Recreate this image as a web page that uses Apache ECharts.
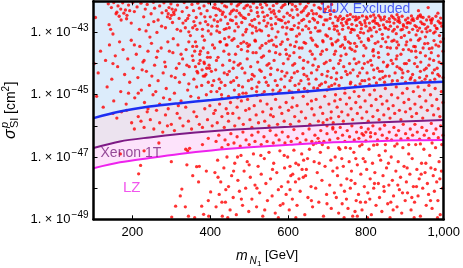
<!DOCTYPE html>
<html><head><meta charset="utf-8">
<script src="https://cdn.jsdelivr.net/npm/echarts@6/dist/echarts.min.js"></script>
<style>html,body{margin:0;padding:0;background:#fff}#c{width:463px;height:268px}</style>
</head><body><div id="c"></div>
<script>
// ---- axis ticks ----
const xTicks = [200, 400, 600, 800, 1000];
const yLabelExps = [-49, -47, -45, -43];   // labelled decades of sigma [cm^2]

// ---- limit curves: mass [GeV] and log10(sigma/cm^2) ----
const curveMass = [100, 168, 244, 321, 403, 502, 604, 706, 808, 910, 1000];
const luxExp    = [-45.75, -45.54, -45.38, -45.27, -45.17, -45.04, -44.94, -44.83, -44.72, -44.63, -44.58];
const xenonExp  = [-46.71, -46.50, -46.37, -46.26, -46.17, -46.09, -46.03, -45.96, -45.90, -45.85, -45.81];
const lzExp     = [-47.36, -47.17, -47.03, -46.90, -46.79, -46.69, -46.61, -46.53, -46.50, -46.46, -46.45];

// ---- annotations: [mass, log10 sigma, text, colour, size] ----
const notes = [
  [800, -42.25, 'LUX Excluded', '#2436f0', 14],
  [196, -46.87, 'Xenon 1T', '#7a237f', 14],
  [198, -47.98, 'LZ', '#ee2ae8', 15]
];

// ---- scan points, flat [mass, log10 sigma, ...] ----
const ptsTop = [
105,-42.52,138,-42.08,146,-42.2,152,-42.04,160,-42.35,163,-42.15,171,-42.6,175,-42.05,182,-42.28,186,-42.45,
190,-42.12,197,-42.7,201,-42.04,205,-42.33,212,-42.18,218,-42.9,222,-42.06,229,-42.5,233,-42.25,238,-42.1,
241,-42.75,248,-42.4,254,-42.03,257,-42.22,263,-43.0,266,-42.6,270,-42.15,276,-42.37,281,-42.05,285,-42.85,
290,-42.5,294,-42.2,299,-42.08,303,-42.68,307,-42.42,311,-42.28,316,-42.12,320,-42.55,324,-42.95,328,-42.33,
333,-42.04,337,-42.62,340,-42.2,345,-42.45,349,-43.1,353,-42.1,357,-42.3,361,-42.78,364,-42.52,368,-42.06,
372,-42.22,376,-42.4,380,-42.9,384,-42.15,388,-42.65,392,-42.3,396,-42.05,400,-42.5,404,-42.8,408,-42.2,
158,-42.4,166,-42.48,178,-42.38,185,-42.56,193,-42.3,170,-42.25,287,-42.3,292,-42.4,297,-42.55,302,-42.25,
306,-42.35,300,-42.45,140,-42.75,150,-43.05,144,-42.9,330,-42.7,336,-42.85,342,-42.55,358,-42.65,366,-42.9,
374,-42.7,386,-42.5,394,-42.75,402,-43.05,410,-42.6,345,-42.98,380,-43.12,
412,-42.1,415,-42.45,418,-42.8,421,-42.25,424,-43.0,427,-42.6,430,-42.05,433,-42.35,436,-42.9,439,-42.5,
442,-42.18,445,-42.72,448,-43.15,451,-42.4,454,-42.08,457,-42.62,460,-42.28,463,-42.95,466,-42.5,469,-42.15,
472,-42.82,475,-42.38,478,-42.04,481,-42.68,484,-43.08,487,-42.22,490,-42.55,493,-42.9,496,-42.12,499,-42.42,
502,-42.75,505,-42.3,508,-43.02,511,-42.06,514,-42.58,517,-42.85,520,-42.2,523,-42.48,526,-42.7,529,-42.1,
532,-42.95,535,-42.35,538,-42.62,541,-42.04,544,-42.8,547,-42.45,550,-43.1,553,-42.25,556,-42.55,559,-42.88,
562,-42.14,565,-42.4,568,-42.72,571,-42.06,574,-42.98,577,-42.32,580,-42.6,583,-42.2,586,-42.83,589,-42.5,
592,-42.1,595,-43.05,598,-42.38,601,-42.66,604,-42.04,607,-42.9,610,-42.28,613,-42.52,616,-42.78,619,-42.16,
622,-43.12,625,-42.44,628,-42.7,631,-42.08,634,-42.35,637,-42.92,640,-42.58,643,-42.22,646,-42.8,649,-42.46,
652,-42.05,655,-42.65,658,-43.0,661,-42.3,664,-42.55,667,-42.12,670,-42.85,673,-42.4,676,-42.68,679,-42.2,
682,-42.95,685,-42.5,688,-42.06,691,-42.75,694,-42.34,697,-43.08,700,-42.6,703,-42.18,706,-42.88,709,-42.42,
712,-42.1,715,-42.7,718,-42.3,417,-42.95,426,-42.3,441,-42.88,452,-42.6,468,-42.3,479,-42.45,492,-42.15,
507,-42.62,519,-42.95,533,-42.2,548,-42.7,557,-42.35,569,-42.5,584,-42.62,597,-42.85,611,-42.1,626,-42.85,
639,-42.3,653,-42.4,668,-42.6,681,-42.48,696,-42.25,708,-42.55,719,-42.9,
722,-42.5,725,-42.8,728,-42.62,731,-43.05,734,-42.48,737,-42.7,740,-42.9,743,-42.55,746,-43.15,749,-42.66,
752,-42.46,755,-42.85,758,-42.58,761,-43.0,764,-42.74,767,-42.5,770,-42.92,773,-42.6,776,-42.78,779,-43.1,
782,-42.52,785,-42.68,788,-42.88,791,-42.47,794,-43.02,797,-42.62,800,-42.8,803,-42.55,806,-42.95,809,-42.7,
812,-42.48,815,-43.12,818,-42.64,821,-42.84,824,-42.53,827,-42.98,830,-42.72,833,-42.46,836,-42.9,839,-42.6,
842,-43.06,845,-42.76,848,-42.5,851,-42.86,854,-42.65,857,-43.15,860,-42.56,863,-42.8,866,-42.47,869,-42.96,
872,-42.7,875,-42.58,878,-43.04,881,-42.82,884,-42.52,887,-42.68,890,-42.92,893,-42.48,896,-42.75,899,-43.1,
902,-42.6,905,-42.84,908,-42.54,911,-43.0,914,-42.7,917,-42.47,920,-42.9,923,-42.62,926,-42.78,929,-43.08,
932,-42.55,935,-42.48,938,-42.86,941,-42.66,944,-42.98,947,-42.52,950,-42.74,953,-43.14,956,-42.6,959,-42.82,
962,-42.5,965,-42.94,968,-42.7,971,-42.56,974,-43.02,977,-42.78,980,-42.48,983,-42.88,986,-42.64,989,-43.1,
992,-42.54,995,-42.8,727,-42.95,739,-42.58,751,-42.72,763,-42.9,774,-42.5,786,-43.0,798,-42.7,810,-42.86,
822,-42.62,834,-42.78,846,-42.58,858,-42.9,870,-42.52,882,-42.64,894,-42.9,906,-42.7,918,-42.6,930,-42.82,
942,-42.5,954,-42.88,966,-42.6,978,-42.98,990,-42.7,760,-42.42,820,-42.44,880,-42.43,940,-42.44,935,-42.3,
960,-42.2,985,-42.38
];
const ptsTop2 = [
414,-42.22,419,-42.65,425,-43.3,431,-42.42,437,-42.15,443,-43.4,449,-42.85,455,-42.32,461,-43.2,467,-42.72,
473,-42.1,479,-43.35,485,-42.52,491,-42.98,497,-43.45,503,-42.18,509,-42.8,515,-43.25,521,-42.36,527,-42.92,
533,-43.42,539,-42.5,545,-42.12,551,-43.28,557,-42.76,563,-42.3,569,-43.15,575,-42.58,581,-43.38,587,-42.14,
593,-42.7,599,-43.22,605,-42.45,611,-42.9,617,-43.45,623,-42.26,629,-43.05,635,-42.62,641,-43.32,647,-42.16,
653,-42.88,659,-43.18,665,-42.4,671,-43.4,677,-42.96,683,-42.24,689,-43.26,695,-42.6,701,-43.12,707,-42.3,
713,-43.36,719,-42.8,
723,-43.3,729,-42.55,735,-43.45,741,-42.78,747,-43.22,753,-42.6,759,-43.5,765,-42.9,771,-43.35,777,-42.58,
783,-43.18,789,-42.75,795,-43.42,801,-42.5,807,-43.25,813,-42.92,819,-43.55,825,-42.7,831,-43.3,837,-42.52,
843,-43.2,849,-42.85,855,-43.48,861,-42.66,867,-43.28,873,-42.9,879,-43.5,885,-42.6,891,-43.16,897,-42.8,
903,-43.4,909,-42.68,915,-43.24,921,-42.56,927,-43.46,933,-42.94,939,-43.2,945,-42.72,951,-43.36,957,-42.98,
963,-43.52,969,-42.62,975,-43.26,981,-42.86,987,-43.44,993,-42.7,999,-43.2,
205,-43.4,225,-44.2,245,-43.15,265,-43.6,285,-44.1,305,-43.2,325,-43.7,345,-43.3,365,-43.45,385,-43.25,
405,-44.7,275,-42.8,315,-42.9,355,-42.85,395,-42.95,255,-42.65,235,-42.95
];
const ptsMid = [
102,-44.0,108,-45.05,112,-44.3,118,-43.6,125,-45.4,131,-43.9,135,-44.75,141,-43.4,147,-44.5,152,-45.2,
156,-43.75,162,-44.1,167,-43.3,170,-44.9,176,-43.55,180,-44.35,184,-45.3,188,-43.85,193,-44.6,197,-43.25,
202,-44.15,206,-45.1,210,-43.7,214,-44.45,219,-43.45,223,-44.85,227,-43.95,231,-45.25,236,-44.25,240,-43.6,
244,-44.7,249,-43.35,253,-45.0,257,-44.05,262,-43.8,266,-44.55,270,-45.3,274,-43.5,279,-44.3,283,-43.95,
287,-44.8,291,-43.3,296,-45.15,300,-44.4,304,-43.65,308,-44.95,313,-44.15,317,-43.4,321,-44.6,325,-45.2,
329,-43.85,333,-44.35,338,-43.55,342,-44.85,346,-44.1,350,-45.05,354,-43.75,358,-44.5,362,-43.3,366,-44.25,
370,-45.1,374,-43.9,378,-44.7,382,-43.5,386,-44.4,390,-45.0,394,-43.65,398,-44.15,402,-44.9,406,-43.4,
409,-44.55,150,-44.0,190,-44.95,230,-43.9,260,-44.9,295,-43.6,320,-44.0,340,-44.05,355,-43.45,365,-44.75,
375,-43.6,385,-44.0,395,-44.6,400,-43.8,345,-44.65,310,-44.45,280,-45.1,250,-44.4,215,-44.95,356,-43.9,
362,-44.1,368,-44.3,373,-43.7,379,-44.2,384,-43.95,389,-44.35,393,-43.8,397,-44.05,403,-44.25,360,-43.6,
371,-44.0,382,-44.4,391,-44.15,
411,-43.5,414,-44.2,417,-44.9,420,-43.8,423,-44.5,426,-43.3,429,-45.0,432,-44.05,435,-43.6,438,-44.7,
441,-43.4,444,-44.35,447,-45.05,450,-43.9,453,-44.6,456,-43.25,459,-44.15,462,-44.85,465,-43.7,468,-44.45,
471,-43.45,474,-45.0,477,-44.0,480,-43.55,483,-44.75,486,-43.3,489,-44.3,492,-44.95,495,-43.85,498,-44.55,
501,-43.4,504,-44.1,507,-44.8,510,-43.65,513,-44.4,516,-43.28,519,-44.9,522,-43.95,525,-44.6,528,-43.5,
531,-44.25,534,-44.98,537,-43.75,540,-44.45,543,-43.35,546,-44.05,549,-44.7,552,-43.6,555,-44.35,558,-43.25,
561,-44.85,564,-43.9,567,-44.55,570,-43.45,573,-44.2,576,-44.92,579,-43.7,582,-44.5,585,-43.3,588,-44.0,
591,-44.75,594,-43.55,597,-44.3,600,-43.85,603,-44.88,606,-43.4,609,-44.45,612,-44.05,615,-43.65,618,-44.7,
621,-43.3,624,-44.25,627,-44.85,630,-43.8,633,-44.55,636,-43.5,639,-44.15,642,-44.8,645,-43.35,648,-44.4,
651,-43.95,654,-44.65,657,-43.6,660,-44.3,663,-43.25,666,-44.78,669,-43.85,672,-44.5,675,-43.45,678,-44.1,
681,-44.7,684,-43.7,687,-44.35,690,-43.3,693,-44.0,696,-44.6,699,-43.55,702,-44.25,705,-44.75,708,-43.9,
711,-44.45,714,-43.4,717,-44.15,720,-44.65,416,-43.9,428,-44.6,437,-43.2,449,-44.25,461,-43.95,473,-44.7,
482,-44.15,494,-43.35,506,-44.5,518,-43.65,527,-44.2,539,-44.9,551,-44.0,563,-43.4,572,-44.7,584,-44.25,
596,-43.7,605,-44.55,617,-44.0,629,-43.5,641,-44.35,650,-44.9,662,-43.7,674,-44.2,686,-44.65,698,-43.95,
710,-43.2,719,-43.7,430,-45.12,470,-45.1,520,-45.02,560,-44.98,610,-44.92,650,-44.88,700,-44.85,
722,-43.6,725,-44.3,728,-43.25,731,-44.7,734,-43.9,737,-44.45,740,-43.4,743,-44.1,746,-44.8,749,-43.7,
752,-44.35,755,-43.3,758,-44.0,761,-44.6,764,-43.55,767,-44.2,770,-43.85,773,-44.72,776,-43.45,779,-44.4,
782,-43.95,785,-44.65,788,-43.3,791,-44.15,794,-43.75,797,-44.55,800,-43.5,803,-44.3,806,-43.2,809,-44.68,
812,-43.9,815,-44.05,818,-43.6,821,-44.45,824,-43.35,827,-44.62,830,-44.15,833,-43.8,836,-44.5,839,-43.45,
842,-44.25,845,-43.95,848,-44.6,851,-43.3,854,-44.1,857,-43.7,860,-44.4,863,-43.5,866,-44.65,869,-44.0,
872,-43.25,875,-44.3,878,-43.85,881,-44.55,884,-43.4,887,-44.15,890,-43.7,893,-44.45,896,-43.55,899,-44.0,
902,-44.6,905,-43.3,908,-44.25,911,-43.9,914,-44.5,917,-43.6,920,-44.35,923,-43.45,926,-44.55,929,-43.8,
932,-44.1,935,-43.25,938,-44.45,941,-43.95,944,-44.58,947,-43.5,950,-44.2,953,-43.75,956,-44.4,959,-43.35,
962,-44.05,965,-44.55,968,-43.65,971,-44.3,974,-43.9,977,-44.5,980,-43.4,983,-44.15,986,-43.75,989,-44.4,
992,-43.3,995,-44.0,998,-43.6,730,-44.0,745,-43.5,760,-44.3,775,-44.0,790,-44.55,805,-43.95,820,-43.75,
835,-44.25,850,-44.4,865,-43.9,880,-44.1,895,-44.3,910,-43.55,925,-44.0,940,-43.65,955,-44.15,970,-43.5,
985,-44.35,760,-43.35,880,-43.3,
424,-44.8,436,-44.3,448,-43.7,460,-44.55,472,-44.05,484,-44.95,496,-43.6,508,-44.35,520,-44.75,532,-43.8,
544,-44.6,556,-44.15,568,-43.65,580,-44.85,592,-44.4,604,-43.75,616,-44.3,628,-44.65,640,-43.9,652,-44.5,
664,-44.05,676,-44.8,688,-43.6,700,-44.4,712,-44.7,724,-44.5,736,-43.75,748,-44.25,760,-44.65,772,-43.6,
784,-44.3,796,-44.0,808,-44.5,820,-44.2,832,-43.65,844,-44.45,856,-44.05,868,-44.55,880,-43.75,892,-44.2,
904,-44.0,916,-44.45,928,-43.6,940,-44.25,952,-44.5,964,-43.85,976,-44.2,988,-43.95,998,-44.45
];
const ptsLuxBand = [
150,-45.6,160,-45.75,172,-45.55,185,-45.5,198,-45.9,205,-46.1,215,-45.7,222,-45.85,230,-46.05,238,-45.55,
246,-45.8,255,-46.1,262,-45.5,270,-45.9,278,-46.2,285,-45.65,292,-45.45,300,-45.95,308,-46.15,315,-45.6,
322,-45.75,330,-46.0,337,-45.4,344,-45.85,352,-46.1,358,-45.55,365,-45.7,372,-45.95,380,-46.05,386,-45.45,
393,-45.8,399,-45.35,405,-46.0,409,-45.6,240,-45.45,318,-45.35,290,-46.0,
413,-45.5,418,-45.9,424,-45.3,430,-45.7,436,-46.05,441,-45.45,447,-45.85,452,-45.25,458,-45.6,463,-46.0,
469,-45.4,474,-45.75,480,-45.2,485,-45.95,491,-45.5,496,-45.15,502,-45.8,507,-46.05,513,-45.35,518,-45.65,
524,-45.9,529,-45.2,535,-45.55,540,-45.85,546,-45.3,551,-46.0,557,-45.45,562,-45.7,568,-45.15,573,-45.95,
579,-45.4,584,-45.6,590,-45.85,595,-45.25,601,-45.5,606,-45.95,612,-45.1,617,-45.7,623,-45.35,628,-45.85,
634,-45.55,639,-45.05,645,-45.75,650,-45.3,656,-45.95,661,-45.45,667,-45.65,672,-45.15,678,-45.85,683,-45.4,
689,-45.6,694,-45.05,700,-45.8,705,-45.3,711,-45.55,716,-45.9,720,-45.2,445,-45.6,500,-45.45,555,-45.65,
610,-45.4,660,-45.2,690,-45.9,700,-46.0,710,-45.75,715,-46.05,
722,-45.0,726,-45.4,730,-45.7,734,-45.15,738,-45.55,742,-45.85,746,-44.95,750,-45.3,754,-45.65,758,-45.1,
762,-45.45,766,-45.8,770,-44.9,774,-45.25,778,-45.6,782,-45.05,786,-45.4,790,-45.75,794,-44.85,798,-45.2,
802,-45.55,806,-45.85,810,-45.0,814,-45.35,818,-45.7,822,-44.85,826,-45.15,830,-45.5,834,-45.8,838,-45.05,
842,-45.3,846,-45.65,850,-44.8,854,-45.2,858,-45.45,862,-45.75,866,-45.0,870,-45.35,874,-45.6,878,-44.75,
882,-45.1,886,-45.5,890,-45.8,894,-44.95,898,-45.25,902,-45.55,906,-44.8,910,-45.15,914,-45.45,918,-45.7,
922,-44.9,926,-45.3,930,-45.6,934,-44.75,938,-45.05,942,-45.4,946,-45.75,950,-44.85,954,-45.2,958,-45.5,
962,-44.7,966,-45.0,970,-45.35,974,-45.65,978,-44.8,982,-45.15,986,-45.45,990,-45.7,994,-44.9,998,-45.25
];
const ptsXeBand = [
169,-46.9,268,-46.55,337,-46.75,342,-46.8,347,-46.72,395,-46.4,380,-46.6,230,-46.8,
415,-46.5,422,-46.3,430,-46.7,438,-46.45,446,-46.6,453,-46.25,461,-46.55,469,-46.35,477,-46.65,484,-46.2,
492,-46.45,500,-46.6,507,-46.3,515,-46.5,523,-46.2,531,-46.6,538,-46.35,546,-46.5,554,-46.15,562,-46.55,
569,-46.3,577,-46.45,585,-46.2,592,-46.55,600,-46.35,608,-46.5,615,-46.12,623,-46.4,631,-46.55,638,-46.25,
646,-46.45,654,-46.1,661,-46.5,669,-46.3,677,-46.4,684,-46.15,692,-46.5,700,-46.25,707,-46.45,715,-46.1,
672,-46.55,680,-46.52,688,-46.6,665,-46.6,
722,-46.2,728,-46.4,734,-46.05,740,-46.3,746,-46.5,752,-46.15,758,-46.35,764,-46.0,770,-46.45,776,-46.2,
782,-46.4,788,-46.05,794,-46.3,800,-46.48,806,-46.1,812,-46.35,818,-46.0,824,-46.25,830,-46.45,836,-46.1,
842,-46.3,848,-45.98,854,-46.4,860,-46.2,866,-46.45,872,-46.05,878,-46.3,884,-46.15,890,-46.42,896,-45.95,
902,-46.25,908,-46.4,914,-46.1,920,-46.3,926,-45.95,932,-46.2,938,-46.43,944,-46.05,950,-46.3,956,-46.15,
962,-46.4,968,-45.92,974,-46.25,980,-46.1,986,-46.38,992,-46.0,998,-46.3,790,-46.25,800,-46.2,812,-46.22
];
const ptsLow = [
216,-47.54,221,-47.27,300,-47.15,365,-47.31,372,-47.3,327,-48.03,323,-48.25,311,-48.58,336,-48.6,344,-48.9,
301,-48.93,378,-48.58,383,-48.84,396,-48.9,401,-48.12,370,-47.8,355,-47.6,390,-47.45,340,-47.25,395,-48.4,
360,-48.95,
412,-47.5,415,-48.6,419,-47.1,423,-48.2,427,-47.8,431,-48.9,435,-47.35,439,-48.45,443,-47.0,447,-47.95,
451,-48.7,455,-47.6,459,-48.3,463,-47.2,467,-48.85,471,-47.75,475,-48.1,479,-46.95,483,-48.55,487,-47.45,
491,-48.0,495,-47.15,499,-48.75,503,-47.65,507,-48.35,511,-46.9,515,-47.9,519,-48.6,523,-47.3,527,-48.15,
531,-47.55,535,-48.9,539,-47.05,543,-47.85,547,-48.4,551,-46.85,555,-47.7,559,-48.25,563,-47.2,567,-48.8,
571,-47.5,575,-48.05,579,-46.8,583,-47.95,587,-48.5,591,-47.35,595,-48.2,599,-47.0,603,-48.7,607,-47.6,
611,-48.35,615,-46.78,619,-47.8,623,-48.55,627,-47.25,631,-48.1,635,-46.9,639,-47.65,643,-48.85,647,-47.4,
651,-48.3,655,-46.75,659,-47.95,663,-48.6,667,-47.15,671,-48.0,675,-47.5,679,-48.45,683,-46.85,687,-47.75,
691,-48.9,695,-47.3,699,-48.2,703,-46.7,707,-47.9,711,-48.65,715,-47.45,719,-48.15,420,-47.65,440,-48.05,
460,-47.45,480,-48.35,500,-47.25,520,-48.0,540,-48.7,560,-47.4,580,-48.55,600,-47.8,620,-48.95,640,-47.1,
660,-48.4,680,-47.2,700,-48.5,710,-47.1,530,-46.95,590,-46.95,650,-47.05,470,-47.0,430,-48.45,445,-48.95,
575,-48.95,605,-48.05,605,-47.3,612,-47.55,620,-47.2,628,-47.7,636,-47.4,645,-47.6,
721,-47.0,724,-48.3,727,-47.6,730,-48.8,733,-46.75,736,-47.9,739,-48.5,742,-47.3,745,-48.1,748,-46.7,
751,-47.7,754,-48.65,757,-47.15,760,-48.0,763,-47.45,766,-48.9,769,-46.85,772,-47.85,775,-48.4,778,-47.25,
781,-48.2,784,-46.65,787,-47.55,790,-48.7,793,-47.05,796,-47.95,799,-48.45,802,-47.4,805,-48.15,808,-46.75,
811,-47.7,814,-48.85,817,-47.2,820,-48.0,823,-47.5,826,-48.55,829,-46.6,832,-47.85,835,-48.3,838,-47.1,
841,-48.75,844,-47.6,847,-48.1,850,-46.8,853,-47.35,856,-48.5,859,-47.9,862,-48.95,865,-47.0,868,-47.75,
871,-48.25,874,-46.65,877,-47.45,880,-48.6,883,-47.15,886,-48.05,889,-47.65,892,-48.8,895,-46.7,898,-47.3,
901,-48.4,904,-47.8,907,-48.15,910,-46.9,913,-47.55,916,-48.7,919,-47.05,922,-47.95,925,-48.45,928,-46.6,
931,-47.4,934,-48.25,937,-47.7,940,-48.9,943,-47.2,946,-48.0,949,-46.75,952,-47.5,955,-48.55,958,-47.85,
961,-48.2,964,-46.95,967,-47.35,970,-48.65,973,-47.6,976,-48.1,979,-46.7,982,-47.8,985,-48.4,988,-47.15,
991,-48.85,994,-47.45,997,-48.0,726,-47.35,738,-47.05,750,-48.35,762,-47.75,774,-47.05,786,-48.45,798,-47.15,
810,-48.35,822,-47.85,834,-46.95,846,-47.95,858,-47.2,870,-48.7,882,-47.9,894,-48.15,906,-47.35,918,-48.3,
930,-47.95,942,-47.55,954,-47.2,966,-48.4,978,-47.4,990,-47.7,744,-48.95,804,-48.95,864,-48.45,924,-48.95,
984,-48.95,772,-48.75,778,-48.9,730,-46.7,760,-46.72,790,-46.6,820,-46.62,850,-46.6,880,-46.58,910,-46.6,
940,-46.58,970,-46.55,995,-46.6
];

// ---- build (y axis is log10 of sigma, drawn on a linear value scale) ----
function pairs(flat) { const out = []; for (let i = 0; i < flat.length; i += 2) out.push([flat[i], flat[i + 1]]); return out; }
const scatterData = [].concat(pairs(ptsTop), pairs(ptsTop2), pairs(ptsMid), pairs(ptsLuxBand), pairs(ptsXeBand), pairs(ptsLow));
const curve = exps => curveMass.map((m, i) => [m, exps[i]]);

const FONT = 'Liberation Sans';

const xBase = {
  type: 'value', min: 100, max: 1000, z: 10,
  axisLine: { show: true, onZero: false, lineStyle: { color: '#000', width: 2.5 } },
  axisTick: { show: true, inside: true, length: 4, lineStyle: { color: '#000', width: 1 }, customValues: xTicks },
  splitLine: { show: false }
};
const yBase = {
  type: 'value', min: -49, max: -42, interval: 1, z: 10,
  axisLine: { show: true, onZero: false, lineStyle: { color: '#000', width: 2.5 } },
  axisTick: { show: true, inside: true, length: 4, lineStyle: { color: '#000', width: 1 } },
  splitLine: { show: false }
};

const chart = echarts.init(document.getElementById('c'), null, { renderer: 'canvas' });
const areaSeries = (exps, color) => ({
  type: 'line', data: curve(exps), smooth: 0.3, showSymbol: false, silent: true, z: 1,
  lineStyle: { width: 0 }, areaStyle: { color: color, opacity: 1, origin: 'end' }
});
const lineSeries = (exps, color, w) => ({
  type: 'line', data: curve(exps), smooth: 0.3, showSymbol: false, silent: true, z: 4,
  lineStyle: { width: w, color: color }
});

chart.setOption({
  animation: false,
  backgroundColor: '#fff',
  grid: { left: 93.5, right: 17, top: 1.3, bottom: 48.7, show: false },
  xAxis: [
    Object.assign({}, xBase, { position: 'bottom',
      axisLabel: { show: true, customValues: xTicks, margin: 7, fontFamily: FONT, fontSize: 13, color: '#000' } }),
    Object.assign({}, xBase, { position: 'top', axisLabel: { show: false } })
  ],
  yAxis: [
    Object.assign({}, yBase, { position: 'left',
      axisLabel: {
        show: true, margin: 5, fontFamily: FONT, color: '#000',
        formatter: v => yLabelExps.indexOf(Math.round(v)) >= 0 ? '{a|1. × 10}{b|−' + (-Math.round(v)) + '}' : '',
        rich: {
          a: { fontFamily: FONT, fontSize: 13, color: '#000', verticalAlign: 'middle' },
          b: { fontFamily: FONT, fontSize: 10, color: '#000', verticalAlign: 'middle', padding: [0, 0, 8, 1] }
        }
      } }),
    Object.assign({}, yBase, { position: 'right', axisLabel: { show: false } })
  ],
  series: [
    areaSeries(lzExp, '#fde3fb'),
    areaSeries(xenonExp, '#ece3ef'),
    areaSeries(luxExp, '#dcecfb'),
    { type: 'scatter', data: scatterData, symbol: 'circle', symbolSize: 3.3, z: 3, silent: true,
      itemStyle: { color: '#ff0000' } },
    lineSeries(luxExp, '#1c2ef2', 2.5),
    lineSeries(xenonExp, '#7d1a85', 2),
    lineSeries(lzExp, '#ee22ee', 2),
    { type: 'scatter', symbolSize: 0, z: 6, silent: true,
      data: notes.map(n => ({ value: [n[0], n[1]], name: n[2],
        label: { show: true, position: 'inside', formatter: n[2], color: n[3], fontSize: n[4], fontFamily: FONT } })) }
  ],
  graphic: [
    { type: 'group', x: 11, y: 111, rotation: Math.PI / 2, silent: true, children: [
      { type: 'text', x: -28, y: 0, style: { text: 'σ', font: 'italic 16px ' + FONT, fill: '#000', align: 'left', verticalAlign: 'middle' } },
      { type: 'text', x: -17, y: -6, style: { text: 'p', font: 'italic 11px ' + FONT, fill: '#000', align: 'left', verticalAlign: 'middle' } },
      { type: 'text', x: -17, y: 4, style: { text: 'SI', font: '11px ' + FONT, fill: '#000', align: 'left', verticalAlign: 'middle' } },
      { type: 'text', x: -3, y: 0, style: { text: '[cm', font: '14px ' + FONT, fill: '#000', align: 'left', verticalAlign: 'middle' } },
      { type: 'text', x: 19.5, y: -5, style: { text: '2', font: '10px ' + FONT, fill: '#000', align: 'left', verticalAlign: 'middle' } },
      { type: 'text', x: 25.5, y: 0, style: { text: ']', font: '14px ' + FONT, fill: '#000', align: 'left', verticalAlign: 'middle' } }
    ] },
    { type: 'text', left: 236, top: 249, silent: true, style: { text: 'm', font: 'italic 14px ' + FONT, fill: '#000' } },
    { type: 'text', left: 249.5, top: 256, silent: true, style: { text: 'N', font: 'italic 10px ' + FONT, fill: '#000' } },
    { type: 'text', left: 257, top: 260, silent: true, style: { text: '1', font: '8px ' + FONT, fill: '#000' } },
    { type: 'text', left: 265, top: 249, silent: true, style: { text: '[GeV]', font: '13px ' + FONT, fill: '#000' } }
  ]
});
</script></body></html>
